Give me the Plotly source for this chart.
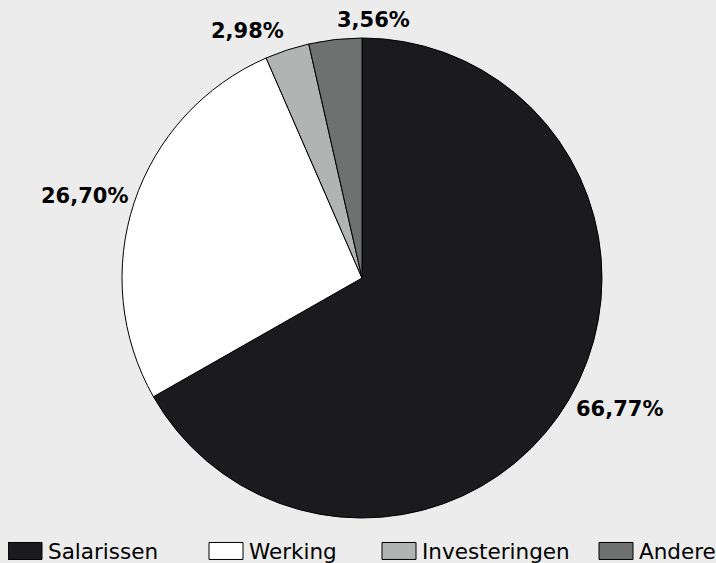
import math
import plotly.graph_objects as go

labels = ["Salarissen", "Werking", "Investeringen", "Andere"]
values = [66.77, 26.70, 2.98, 3.56]
colors = ["#1b1a1d", "#ffffff", "#b2b3b3", "#6f7070"]

W, H = 716, 563
cx, cy, r = 362, 278, 240
label_rx, label_ry = 245, 260

fig = go.Figure(go.Pie(
    labels=labels,
    values=values,
    sort=False,
    direction="clockwise",
    rotation=0,
    marker=dict(colors=colors, line=dict(color="#000000", width=1)),
    textinfo="none",
    hoverinfo="label+percent",
    domain=dict(x=[(cx - r) / W, (cx + r) / W], y=[1 - (cy + r) / H, 1 - (cy - r) / H]),
    automargin=False,
))

# outside percentage labels placed along each slice's mid angle
total = sum(values)
cum = 0.0
annotations = []
for v in values:
    mid = (cum + v / 2) / total * 2 * math.pi
    cum += v
    s, c = math.sin(mid), math.cos(mid)
    px = cx + label_rx * s
    py = cy - label_ry * c
    xanchor = "left" if s > -0.2 else "right"
    annotations.append(dict(
        x=px / W, y=1 - py / H, xref="paper", yref="paper",
        text=f"{v:.2f}%".replace(".", ","),
        showarrow=False, xanchor=xanchor, yanchor="middle",
        font=dict(family="DejaVu Sans", size=21, color="#000000", weight="bold"),
    ))

fig.update_layout(
    width=W, height=H,
    margin=dict(l=0, r=0, t=0, b=0, autoexpand=False),
    paper_bgcolor="#ebeceb",
    plot_bgcolor="#ebeceb",
    separators=",.",
    showlegend=True,
    annotations=annotations,
    legend=dict(
        orientation="h",
        x=8 / W, xanchor="left",
        y=1 - 551 / H, yanchor="middle",
        font=dict(family="DejaVu Sans", size=21.5, color="#000000"),
        bgcolor="rgba(0,0,0,0)",
        entrywidth=133,
        entrywidthmode="pixels",
    ),
)

post = """
document.body.style.margin = '0';
document.body.style.background = '#ebeceb';
document.querySelectorAll('.legendpoints path.legendpie').forEach(function(p){
  p.setAttribute('d', 'M-20,-8.5h34v17h-34z');
});
var xs = [0, 201, 374, 591];
document.querySelectorAll('.legend .traces').forEach(function(t, i){
  var tr = t.getAttribute('transform') || '';
  var m = /translate\\(\\s*([-\\d.e]+)[ ,]+([-\\d.e]+)\\s*\\)/.exec(tr);
  var y = m ? m[2] : 0;
  if (i < xs.length) t.setAttribute('transform', 'translate(' + xs[i] + ',' + y + ')');
});
"""

fig.write_html("out.html", post_script=post, config={"displayModeBar": False})
